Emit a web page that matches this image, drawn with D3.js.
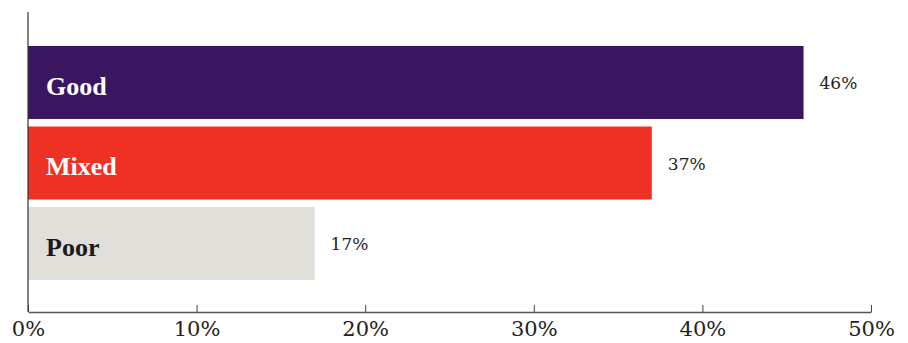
<!DOCTYPE html>
<html>
<head>
<meta charset="utf-8">
<script src="https://cdn.jsdelivr.net/npm/d3@7"></script>
<style>
  html, body { margin: 0; padding: 0; background: #fff; }
  svg { display: block; }
</style>
</head>
<body>
<svg id="chart" width="908" height="343"></svg>
<script>
const categories = ["Good", "Mixed", "Poor"];
const values = [46, 37, 17];
const barColors = ["#3a1560", "#ef3125", "#e0dfda"];
const labelColors = ["#ffffff", "#ffffff", "#1a1a1a"];
const tickValues = [0, 10, 20, 30, 40, 50];

const svg = d3.select("#chart");
const width = 908;
const font = "'DejaVu Serif', 'Liberation Serif', Georgia, serif";

const x = d3.scaleLinear().domain([0, 50]).range([28, width - 37]);
const y = d3.scaleBand().domain(categories).range([46, 280]).paddingInner(0.093).paddingOuter(0);

const g = svg.append("g");

// bars
g.selectAll("rect.bar").data(categories).join("rect")
  .attr("class", "bar")
  .attr("x", x(0))
  .attr("y", d => y(d))
  .attr("width", (d, i) => x(values[i]) - x(0))
  .attr("height", y.bandwidth())
  .attr("fill", (d, i) => barColors[i]);

// category labels inside bars
g.selectAll("text.cat").data(categories).join("text")
  .attr("class", "cat")
  .attr("x", x(0) + 18)
  .attr("y", d => y(d) + y.bandwidth() / 2 + 3)
  .attr("dy", "0.35em")
  .attr("fill", (d, i) => labelColors[i])
  .style("font-family", "'Liberation Serif', 'DejaVu Serif', serif")
  .style("font-weight", "bold")
  .style("font-size", "26px")
  .text(d => d);

// value labels
g.selectAll("text.val").data(categories).join("text")
  .attr("class", "val")
  .attr("x", (d, i) => x(values[i]) + 16)
  .attr("y", d => y(d) + y.bandwidth() / 2 + 1)
  .attr("dy", "0.35em")
  .attr("fill", "#222")
  .style("font-family", font)
  .style("font-size", "17px")
  .text((d, i) => values[i] + "%");

// x axis
const axisY = 312;
const xAxis = g.append("g")
  .attr("transform", `translate(0,${axisY})`)
  .call(d3.axisBottom(x).tickValues(tickValues).tickFormat(d => d + "%").tickSizeInner(-7).tickSizeOuter(0));
xAxis.select(".domain").attr("stroke", "#555").attr("stroke-width", 1.5);
xAxis.selectAll(".tick line").attr("stroke", "#444");
xAxis.selectAll(".tick text")
  .attr("y", 24)
  .attr("dy", 0)
  .attr("fill", "#222")
  .style("font-family", font)
  .style("font-size", "21px");

// left vertical rule
g.append("line")
  .attr("x1", x(0)).attr("x2", x(0))
  .attr("y1", 12).attr("y2", axisY)
  .attr("stroke", "#333").attr("stroke-width", 1.2);
</script>
</body>
</html>
